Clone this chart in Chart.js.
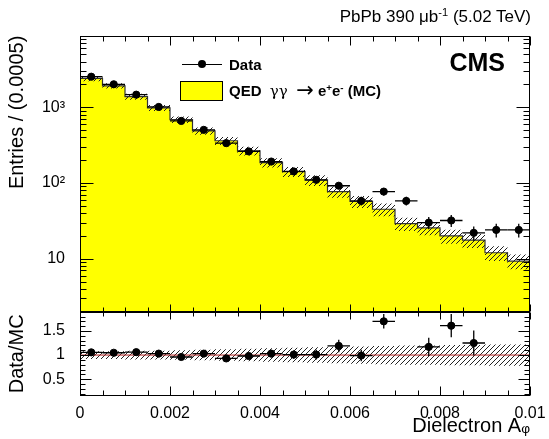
<!DOCTYPE html>
<html><head><meta charset="utf-8">
<script src="https://cdn.jsdelivr.net/npm/chart.js@4/dist/chart.umd.min.js"></script>
<style>
html,body{margin:0;padding:0;background:#fff;}
body{width:549px;height:439px;overflow:hidden;position:relative;font-family:"Liberation Sans",Arial,Helvetica,sans-serif;color:#000;}
canvas{position:absolute;left:0;}
#c1{top:0;}
#c2{top:290px;}
.t{position:absolute;white-space:nowrap;line-height:1;}
sup{font-size:65%;vertical-align:0.55em;line-height:0;}
</style></head><body>
<canvas id="c1" width="549" height="340" style="width:549px;height:340px"></canvas>
<canvas id="c2" width="549" height="149" style="width:549px;height:149px"></canvas>

<div class="t" style="right:18px;top:8px;font-size:17px;">PbPb 390 μb<sup>-1</sup> (5.02 TeV)</div>
<div class="t" style="right:44px;top:50px;font-size:25px;font-weight:bold;">CMS</div>

<div style="position:absolute;left:182px;top:64px;width:40px;height:1px;background:#000;"></div>
<div style="position:absolute;left:198px;top:60px;width:8px;height:8px;border-radius:50%;background:#000;"></div>
<div class="t" style="left:229px;top:57px;font-size:15px;font-weight:bold;">Data</div>
<div style="position:absolute;left:180px;top:81px;width:41px;height:18px;background:#ffff00;border:1px solid #000;"></div>
<div class="t" style="left:229px;top:83px;font-size:15px;font-weight:bold;">QED&nbsp;&nbsp;<span style="font-weight:normal;font-family:'DejaVu Serif',serif;">γγ</span>&nbsp;&nbsp;<span style="font-weight:normal;font-family:'DejaVu Sans',sans-serif;font-size:21px;line-height:0;vertical-align:-1px;">→</span> e<sup>+</sup>e<sup>-</sup> (MC)</div>

<script>
// ---------------- data ----------------
const binCenters = [0.00025,0.00075,0.00125,0.00175,0.00225,0.00275,0.00325,0.00375,0.00425,0.00475,
                    0.00525,0.00575,0.00625,0.00675,0.00725,0.00775,0.00825,0.00875,0.00925,0.00975];
const binHalfWidth = 0.00025;
const dataCounts = [2530,2010,1465,1009,660,503,336,261,192,142,110,92,58,77,58,30,32,22,24,24];
const dataErrors = [50,45,38,32,26,22,18,16,14,12,10.5,9.6,7.6,8.8,7.6,5.5,5.7,4.7,4.9,4.9];
const mcCounts   = [2400,1920,1380,980,688,488,361,266,186,141,109,77,57,45,29,25.5,20,17.6,12,9.3];
const mcRelUnc   = [0.08,0.08,0.09,0.09,0.10,0.11,0.12,0.13,0.14,0.15,0.16,0.17,0.18,0.19,0.20,0.20,0.21,0.21,0.22,0.22];
const ratioVals  = [1.056,1.048,1.06,1.03,0.96,1.03,0.93,0.98,1.03,1.01,1.01,1.19,0.99,1.70,null,1.17,1.61,1.25,null,null];
const ratioErrs  = [0.03,0.03,0.03,0.035,0.04,0.045,0.05,0.06,0.075,0.085,0.1,0.13,0.12,0.15,null,0.19,0.24,0.26,null,null];

const xTickValues = [0,0.002,0.004,0.006,0.008,0.01];
const xTickLabels = ['0','0.002','0.004','0.006','0.008','0.01'];
const yTickValues = [10,100,1000];
const yTickLabels = ['10','10²','10³'];
const rTickValues = [0.5,1,1.5];
const rTickLabels = ['0.5','1','1.5'];

// ---------------- helpers ----------------
const FONT = '"Liberation Sans", Arial, Helvetica, sans-serif';
function hatchPattern(){
  const c = document.createElement('canvas'); c.width = 5; c.height = 5;
  const g = c.getContext('2d');
  g.strokeStyle = '#222'; g.lineWidth = 1;
  g.beginPath(); g.moveTo(0,5); g.lineTo(5,0); g.stroke();
  g.beginPath(); g.moveTo(-1,1); g.lineTo(1,-1); g.stroke();
  g.beginPath(); g.moveTo(4,6); g.lineTo(6,4); g.stroke();
  return g.createPattern(c,'repeat');
}
const HATCH = hatchPattern();
function stepPoints(vals){
  const pts = binCenters.map((c,i)=>({x:c-binHalfWidth, y:vals[i]}));
  pts.push({x:binCenters[binCenters.length-1]+binHalfWidth, y:vals[vals.length-1]});
  return pts;
}
const mcUp = mcCounts.map((v,i)=>v*(1+mcRelUnc[i]));
const mcDn = mcCounts.map((v,i)=>v*(1-mcRelUnc[i]));
const rUp = mcRelUnc.map(u=>1+u);
const rDn = mcRelUnc.map(u=>1-u);

const frameTicks = {
  id:'frameTicks',
  afterDatasetsDraw(chart, args, o){
    const {ctx, chartArea:a, scales} = chart;
    const L = Math.round(a.left)+0.5, R = Math.round(a.right)-0.5, T = Math.round(a.top)+0.5, B = Math.round(a.bottom)-0.5;
    ctx.save();
    ctx.strokeStyle = '#000'; ctx.lineWidth = 1;
    ctx.beginPath();
    o.xTicks.forEach(t=>{
      const p = Math.round(scales.x.getPixelForValue(t.v))+0.5;
      ctx.moveTo(p,B); ctx.lineTo(p,B-t.lb);
      ctx.moveTo(p,T); ctx.lineTo(p,T+t.lt);
    });
    o.yTicks.forEach(t=>{
      const p = Math.round(scales.y.getPixelForValue(t.v))+0.5;
      ctx.moveTo(L,p); ctx.lineTo(L+t.l,p);
      ctx.moveTo(R,p); ctx.lineTo(R-t.l,p);
    });
    ctx.stroke();
    ctx.strokeRect(L,T,R-L,B-T);
    ctx.restore();
  }
};
const errorBars = {
  id:'errorBars',
  afterDatasetsDraw(chart){
    const {ctx, scales:{x,y}, chartArea:a} = chart;
    ctx.save();
    ctx.beginPath(); ctx.rect(a.left,a.top,a.right-a.left,a.bottom-a.top); ctx.clip();
    ctx.strokeStyle = '#000'; ctx.lineWidth = 1.3;
    chart.data.datasets.forEach(ds=>{
      if(!ds.yErr) return;
      ds.data.forEach((d,i)=>{
        if(d.y===null || d.y===undefined) return;
        const px = x.getPixelForValue(d.x), py = y.getPixelForValue(d.y);
        const x0 = x.getPixelForValue(d.x-binHalfWidth), x1 = x.getPixelForValue(d.x+binHalfWidth);
        const y0 = y.getPixelForValue(d.y-ds.yErr[i]), y1 = y.getPixelForValue(d.y+ds.yErr[i]);
        ctx.beginPath();
        ctx.moveTo(x0,py); ctx.lineTo(x1,py);
        ctx.moveTo(px,y0); ctx.lineTo(px,y1);
        ctx.stroke();
      });
    });
    ctx.restore();
  }
};

const xMinor = []; for(let k=0;k<=20;k++){ xMinor.push({v:k*0.0005, major:k%4===0}); }
const upperX = xMinor.map(t=>({v:t.v, lb:t.major?7:4, lt:t.major?9:5}));
const lowerX = xMinor.map(t=>({v:t.v, lb:t.major?9:5, lt:t.major?7:4}));
const upperY = [];
[1,10,100,1000].forEach(d=>{ for(let m=1;m<=9;m++){ const v=m*d; if(v>=2 && v<=8800) upperY.push({v, l: m===1?13:6}); } });
const lowerY = []; for(let k=2;k<=18;k++){ lowerY.push({v:k/10, l:(k%5===0)?11:5}); }

Chart.defaults.font.family = FONT;
Chart.defaults.color = '#000';

new Chart(document.getElementById('c1'), {
  type:'line',
  data:{ datasets:[
    { label:'Data', type:'scatter', data: binCenters.map((c,i)=>({x:c,y:dataCounts[i]})), yErr: dataErrors,
      pointRadius:3.6, pointBackgroundColor:'#000', pointBorderColor:'#000', showLine:false, order:0 },
    { label:'MC unc up', data: stepPoints(mcUp), stepped:'before', borderWidth:0, pointRadius:0, fill:false, order:2 },
    { label:'MC unc', data: stepPoints(mcDn), stepped:'before', borderWidth:0, pointRadius:0, fill:'-1', backgroundColor:HATCH, order:1 },
    { label:'QED γγ → e⁺e⁻ (MC)', data: stepPoints(mcCounts), stepped:'before', borderColor:'#333', borderWidth:1.2,
      pointRadius:0, fill:'start', backgroundColor:'#ffff00', order:3 }
  ]},
  options:{
    responsive:false, animation:false, events:[],
    layout:{ padding:{ top:35.7, bottom:340-311.7, left:0, right:19 } },
    plugins:{ legend:{display:false}, tooltip:{enabled:false}, frameTicks:{ xTicks:upperX, yTicks:upperY } },
    scales:{
      x:{ type:'linear', min:0, max:0.01, display:false },
      y:{ type:'logarithmic', min:2, max:8800,
          afterFit(s){ s.width = 80; },
          afterBuildTicks(s){ s.ticks = yTickValues.map(v=>({value:v})); },
          ticks:{ callback:(v,i)=>yTickLabels[i], font:{size:16}, color:'#000', padding:7, autoSkip:false },
          grid:{display:false}, border:{display:false},
          title:{ display:true, text:'Entries / (0.0005)', align:'end', font:{size:20}, color:'#000', padding:{top:5,bottom:0} } }
    }
  },
  plugins:[frameTicks, errorBars]
});

new Chart(document.getElementById('c2'), {
  type:'line',
  data:{ datasets:[
    { label:'Data/MC', type:'scatter', data: binCenters.map((c,i)=>({x:c,y:ratioVals[i]})), yErr: ratioErrs,
      pointRadius:3.6, pointBackgroundColor:'#000', pointBorderColor:'#000', showLine:false, order:0 },
    { label:'unity', data:[{x:0,y:1},{x:0.01,y:1}], borderColor:'#b22222', borderWidth:1, pointRadius:0, fill:false, order:1 },
    { label:'unc up', data: stepPoints(rUp), stepped:'before', borderWidth:0, pointRadius:0, fill:false, order:3 },
    { label:'unc', data: stepPoints(rDn), stepped:'before', borderWidth:0, pointRadius:0, fill:'-1', backgroundColor:HATCH, order:2 }
  ]},
  options:{
    responsive:false, animation:false, events:[],
    layout:{ padding:{ top:311.7-290, bottom:0, left:0, right:19 } },
    plugins:{ legend:{display:false}, tooltip:{enabled:false}, frameTicks:{ xTicks:lowerX, yTicks:lowerY } },
    scales:{
      x:{ type:'linear', min:0, max:0.01,
          afterFit(s){ s.height = 43; },
          afterBuildTicks(s){ s.ticks = xTickValues.map(v=>({value:v})); },
          ticks:{ callback:(v,i)=>xTickLabels[i], font:{size:16}, color:'#000', padding:0, autoSkip:false, maxRotation:0 },
          grid:{display:false}, border:{display:false},
          title:{ display:true, text:'Dielectron Aᵩ', align:'end', font:{size:20}, color:'#000', padding:{top:0,bottom:1} } },
      y:{ min:0.15, max:1.9,
          afterFit(s){ s.width = 80; },
          afterBuildTicks(s){ s.ticks = rTickValues.map(v=>({value:v})); },
          ticks:{ callback:(v,i)=>rTickLabels[i], font:{size:16}, color:'#000', padding:7, autoSkip:false },
          grid:{display:false}, border:{display:false},
          title:{ display:true, text:'Data/MC', align:'center', font:{size:20}, color:'#000', padding:{top:5,bottom:0} } }
    }
  },
  plugins:[frameTicks, errorBars]
});
</script>
</body></html>
